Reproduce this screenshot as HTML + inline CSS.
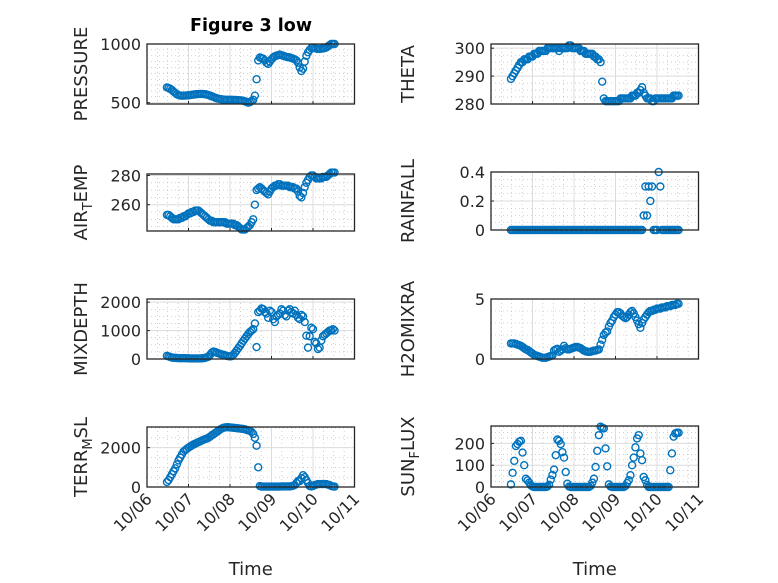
<!DOCTYPE html>
<html><head><meta charset="utf-8"><style>
html,body{margin:0;padding:0;background:#fff}
svg{display:block;font-family:"DejaVu Sans","Liberation Sans",sans-serif}
</style></head><body>
<svg id="fig" width="778" height="583" viewBox="0 0 778 583" xmlns="http://www.w3.org/2000/svg">
<rect x="0" y="0" width="778" height="583" fill="#fff"/>
<text x="251" y="31" text-anchor="middle" font-size="17.5" font-weight="bold" fill="#000">Figure 3 low</text>
</svg>
<script>
// shared time axis: day of October, starting 10/06 11:31, every ~58 minutes
const timeStart = 6.48;
const timeStep = 0.04;
const pressure = [630,625,618,608,595,583,572,565,561,560,
560,561,562,563,565,567,569,571,573,574,
575,575,574,572,569,565,560,555,549,543,
538,534,531,529,527,526,525,525,525,525,
524,523,522,521,520,519,516,512,506,500,
505,515,525,560,700,860,885,880,875,860,
840,830,850,870,885,895,900,905,910,905,
900,895,890,888,885,880,875,870,860,840,
800,770,790,850,900,930,950,965,970,965,
960,958,958,960,962,965,970,980,990,1000,
1000,1000];
const theta = [289,290,291,292,293,294,295,295,296,296,
296,297,297,297,298,298,298,299,299,299,
299,299,300,300,300,300,300,300,300,299,
300,300,300,300,300,301,301,300,300,300,
300,300,299,299,299,298,298,298,298,298,
297,297,296,296,295,288,282,281,281,281,
281,281,281,281,281,281,282,282,282,282,
282,282,282,283,283,283,284,284,285,286,
284,283,282,282,282,281,281,282,282,282,
282,282,282,282,282,282,282,282,283,283,
283,283];
const airTemp = [253,253,252,251,250,250,250,250,251,251,
252,252,253,254,254,255,255,256,256,256,
255,254,253,252,251,250,249,249,248,248,
248,248,248,248,248,248,247,247,247,247,
247,246,246,245,244,243,243,243,244,245,
246,248,250,260,270,271,272,271,270,269,
268,267,269,271,272,273,273,274,274,273,
273,273,273,273,272,272,272,271,271,269,
266,265,268,272,275,277,279,280,280,279,
278,278,278,278,279,279,279,280,281,282,
282,282];
const rainfall = [0,0,0,0,0,0,0,0,0,0,
0,0,0,0,0,0,0,0,0,0,
0,0,0,0,0,0,0,0,0,0,
0,0,0,0,0,0,0,0,0,0,
0,0,0,0,0,0,0,0,0,0,
0,0,0,0,0,0,0,0,0,0,
0,0,0,0,0,0,0,0,0,0,
0,0,0,0,0,0,0,0,0,0,
0.1,0.3,0.1,0.3,0.2,0.3,0,0,0,0.4,
0.3,0,0,0,0,0,0,0,0,0,
0,0];
const mixDepth = [110,90,70,50,40,40,35,30,30,30,
30,30,25,25,20,20,20,20,20,20,
20,25,30,40,60,80,150,220,260,250,
220,200,180,160,150,130,110,100,90,100,
150,220,300,380,460,550,640,720,800,880,
950,1000,1050,1250,420,1650,1700,1780,1750,1650,
1600,1450,1700,1650,1400,1300,1500,1550,1600,1750,
1700,1550,1500,1700,1750,1650,1600,1700,1550,1450,
1400,1550,1500,1300,820,400,800,1100,1050,600,
550,350,400,650,800,850,900,950,1000,1000,
1050,1000];
const h2oMix = [1.3,1.3,1.3,1.25,1.2,1.15,1.1,1.0,0.9,0.8,
0.75,0.65,0.55,0.45,0.35,0.3,0.25,0.2,0.15,0.1,
0.1,0.1,0.15,0.2,0.25,0.3,0.7,0.8,0.85,0.6,
0.7,0.8,1.1,0.9,0.8,0.8,0.85,0.9,0.95,1.0,
1.0,0.95,0.9,0.8,0.7,0.65,0.6,0.6,0.6,0.65,
0.7,0.7,0.75,0.8,1.2,1.6,2.0,2.2,2.3,2.7,
3.0,3.2,3.5,3.7,3.9,3.9,3.8,3.6,3.5,3.4,
3.5,3.7,3.9,4.0,3.8,3.5,3.2,2.9,2.6,3.0,
3.3,3.5,3.7,3.9,4.0,4.0,4.1,4.1,4.2,4.2,
4.2,4.3,4.3,4.3,4.4,4.4,4.4,4.5,4.5,4.5,
4.6,4.6];
const terrMsl = [250,350,500,650,800,950,1150,1350,1500,1650,
1800,1870,1940,2000,2060,2110,2160,2200,2240,2280,
2320,2360,2400,2430,2460,2500,2560,2620,2680,2740,
2800,2860,2920,2970,3010,3030,3040,3040,3030,3020,
3010,3000,2990,2980,2970,2960,2950,2930,2900,2880,
2850,2800,2700,2500,2100,1000,50,20,20,20,
20,20,20,20,20,20,20,20,20,30,
30,30,30,30,30,40,60,100,200,300,
300,450,600,500,350,200,50,30,50,100,
120,150,150,150,150,150,150,120,100,50,
30,20];
const sunFlux = [12,65,120,188,197,208,212,158,100,38,
30,20,8,2,0,0,0,0,0,0,
0,0,2,10,34,55,80,146,218,212,
197,160,135,69,15,2,0,0,0,0,
0,0,0,0,0,0,0,0,5,20,
38,92,166,238,277,272,269,177,95,12,
2,0,0,0,0,0,0,0,0,5,
18,31,54,100,135,182,223,238,154,123,
46,31,10,0,0,0,0,0,0,0,
0,0,0,0,0,0,77,154,231,246,
249,249];
const xTickDays = [6,7,8,9,10,11];
const xTickLabels = ["10/06","10/07","10/08","10/09","10/10","10/11"];
const pressureTicks = [500,1000];
const thetaTicks = [280,290,300];
const airTicks = [260,280];
const rainTicks = [0,0.2,0.4];
const rainTickLabels = ["0","0.2","0.4"];
const mixTicks = [0,1000,2000];
const h2oTicks = [0,5];
const terrTicks = [0,2000];
const sunTicks = [0,100,200];

const NS = "http://www.w3.org/2000/svg";
const svg = document.getElementById('fig');
function mk(tag, attrs, parent){const e=document.createElementNS(NS,tag);for(const k in attrs)e.setAttribute(k,attrs[k]);(parent||svg).appendChild(e);return e;}

const panels = [
 {id:'pressure',x:147,y:44,h:60,ylim:[489,1000],vals:pressure,ticks:pressureTicks,minor:50,label:['PRESSURE'],lo:61},
 {id:'theta',x:491,y:44,h:60,ylim:[280,301.5],vals:theta,ticks:thetaTicks,minor:2.5,label:['THETA'],lo:78},
 {id:'air-temp',x:147,y:174,h:57,ylim:[242,281],vals:airTemp,ticks:airTicks,minor:5,label:['AIR','T','EMP'],lo:61},
 {id:'rainfall',x:491,y:172,h:58,ylim:[0,0.4],vals:rainfall,ticks:rainTicks,tickLabels:rainTickLabels,minor:0.05,label:['RAINFALL'],lo:78},
 {id:'mixdepth',x:147,y:299,h:60,ylim:[0,2111],vals:mixDepth,ticks:mixTicks,minor:250,label:['MIXDEPTH'],lo:61},
 {id:'h2omixra',x:491,y:299,h:60,ylim:[0,5],vals:h2oMix,ticks:h2oTicks,minor:1,label:['H2OMIXRA'],lo:78},
 {id:'terr-msl',x:147,y:427,h:60,ylim:[0,3050],vals:terrMsl,ticks:terrTicks,minor:500,label:['TERR','M','SL'],xlabels:true,lo:61},
 {id:'sun-flux',x:491,y:426,h:61,ylim:[0,280],vals:sunFlux,ticks:sunTicks,minor:25,label:['SUN','F','LUX'],xlabels:true,lo:78}
];
const W = 207.5;

panels.forEach(p=>{
  const g = mk('g',{});
  
  
  const xs = d => p.x + (d - 6) / 5 * W;
  const ys = v => p.y + p.h - (v - p.ylim[0]) / (p.ylim[1] - p.ylim[0]) * p.h;
  for (let d = 6.25; d < 11; d += 0.25) {
    if (Math.abs(d - Math.round(d)) < 1e-6) continue;
    const l = mk('line',{x1:xs(d),x2:xs(d),y1:p.y,y2:p.y+p.h,stroke:'#b0b0b0','stroke-width':0.6,'stroke-dasharray':'1 3'},g);
    
    
  }
  for (let v = Math.ceil(p.ylim[0]/p.minor)*p.minor; v < p.ylim[1]; v += p.minor) {
    if (p.ticks.some(t=>Math.abs(t-v)<1e-9)) continue;
    const l = mk('line',{x1:p.x,x2:p.x+W,y1:ys(v),y2:ys(v),stroke:'#b0b0b0','stroke-width':0.6,'stroke-dasharray':'1 3'},g);
    
    
  }
  xTickDays.forEach(d=>{
    const l = mk('line',{x1:xs(d),x2:xs(d),y1:p.y,y2:p.y+p.h,stroke:'#dcdcdc','stroke-width':1},g);
    
    
  });
  p.ticks.forEach((t,i)=>{
    const l = mk('line',{x1:p.x,x2:p.x+W,y1:ys(t),y2:ys(t),stroke:'#dcdcdc','stroke-width':1},g);
    
    
    const tk = mk('line',{x1:p.x,x2:p.x+3,y1:ys(t),y2:ys(t),stroke:'#262626','stroke-width':1},g);
    
    
    const tx = mk('text',{x:p.x-6,y:ys(t)+6,'text-anchor':'end','font-size':16,fill:'#262626'},g);
    tx.textContent = p.tickLabels ? p.tickLabels[i] : String(t);
    
    
  });
  xTickDays.forEach((d,i)=>{
    const tk = mk('line',{x1:xs(d),x2:xs(d),y1:p.y+p.h,y2:p.y+p.h-3,stroke:'#262626','stroke-width':1},g);
    
    
    if (p.xlabels) {
      const tx = mk('text',{x:0,y:0,'text-anchor':'end','font-size':16,fill:'#262626',transform:`translate(${xs(d)+6},${p.y+p.h+13}) rotate(-45)`},g);
      tx.textContent = xTickLabels[i];
      
      
    }
  });
  p.vals.forEach((v,i)=>{
    const t = timeStart + timeStep * i;
    const c = mk('circle',{cx:xs(t),cy:ys(v),r:3.5,fill:'none',stroke:'#0072BD','stroke-width':1.4},g);
    
    
  });
  const b = mk('rect',{x:p.x,y:p.y,width:W,height:p.h,fill:'none',stroke:'#262626','stroke-width':1.3},g);
  
  
  const lx = p.x - p.lo + 1, ly = p.y + p.h/2;
  const lab = mk('text',{x:0,y:0,'text-anchor':'middle','font-size':18,fill:'#262626',transform:`translate(${lx},${ly}) rotate(-90)`},g);
  
  
  if (p.label.length === 1) { lab.textContent = p.label[0]; }
  else {
    const a = mk('tspan',{},lab); a.textContent = p.label[0];
    const s = mk('tspan',{'font-size':13,dy:5},lab); s.textContent = p.label[1];
    const e = mk('tspan',{dy:-5},lab); e.textContent = p.label[2];
  }
  if (p.xlabels) {
    const xl = mk('text',{x:p.x+W/2,y:575,'text-anchor':'middle','font-size':18,fill:'#262626'},g);
    xl.textContent = 'Time';
    
    
  }
});
</script>
</body></html>
